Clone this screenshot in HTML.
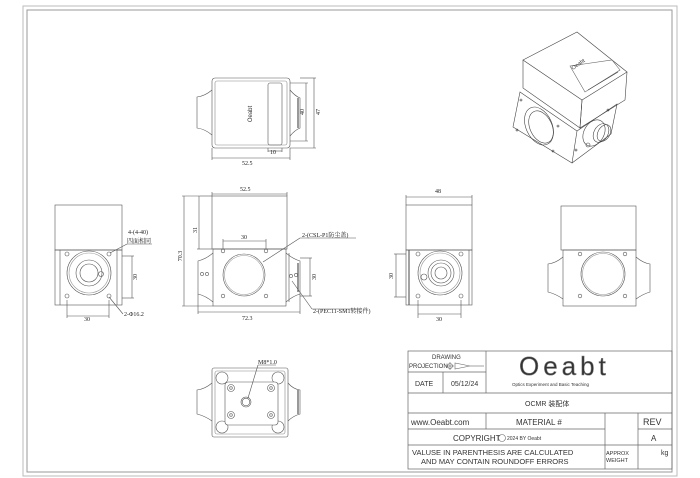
<!DOCTYPE html>
<html><head><meta charset="utf-8"><style>
html,body{margin:0;padding:0;background:#fff;}
svg{display:block}
text{font-family:"Liberation Sans","Noto Sans CJK SC",sans-serif;fill:#333}
.d{font-family:"Liberation Serif","Noto Serif CJK SC",serif;font-size:6px;fill:#222}
</style></head><body>
<svg width="700" height="478" viewBox="0 0 700 478" xmlns="http://www.w3.org/2000/svg" fill="none" stroke="#555" stroke-width="0.6">
<rect x="23" y="6" width="654" height="470" stroke="#bbb" stroke-width="1"/>
<rect x="27" y="10" width="645" height="462" stroke="#999" stroke-width="1"/>

<!-- TOP VIEW -->
<g>
<rect x="212" y="78" width="78" height="70" rx="3"/>
<rect x="215" y="81" width="72" height="64" rx="2" stroke="#888"/>
<rect x="268" y="83" width="14" height="62" rx="2"/>
<path d="M212,90 Q205,96 197,97 L197,128 Q205,129 212,135"/>
<path d="M290,90 Q295,96 300,98 L300,128 Q295,130 290,136"/>
<line x1="298" y1="98" x2="298" y2="128" stroke-width="1.2"/>
<text x="0" y="0" font-size="6" fill="#222" stroke="none" transform="translate(252,114) rotate(-90)" text-anchor="middle">Oeabt</text>
<line x1="212" y1="148" x2="212" y2="160"/><line x1="290" y1="148" x2="290" y2="160"/>
<line x1="212" y1="158" x2="290" y2="158"/>
<text class="d" x="242" y="165" stroke="none">52.5</text>
<line x1="268" y1="148" x2="268" y2="152"/><line x1="282" y1="148" x2="282" y2="152"/>
<line x1="268" y1="151" x2="282" y2="151"/>
<text class="d" x="270" y="154" stroke="none">10</text>
<line x1="290" y1="83" x2="308" y2="83"/><line x1="290" y1="141" x2="308" y2="141"/>
<line x1="306" y1="83" x2="306" y2="141"/>
<line x1="300" y1="78" x2="316" y2="78"/><line x1="290" y1="148" x2="316" y2="148"/>
<line x1="314" y1="78" x2="314" y2="148"/>
<text class="d" stroke="none" transform="translate(304,112) rotate(-90)" text-anchor="middle">40</text>
<text class="d" stroke="none" transform="translate(320,112) rotate(-90)" text-anchor="middle">47</text>
</g>

<!-- ISO VIEW -->
<g stroke="#444">
<polygon points="523,60 577,32 627,72 582,100" fill="#fff"/>
<polyline points="523,60 523,88 580,128 582,100"/>
<polyline points="582,100 580,128 625,100 627,72"/>
<polygon points="570,66 612,60 620,70 585,92" stroke="#666"/>
<line x1="588" y1="90" x2="618" y2="72"/>
<text stroke="none" font-size="5.5" fill="#222" transform="translate(573,70) rotate(-35)">Oeabt</text>
<polygon points="520,92 577,131 572,163 513,127"/>
<polyline points="577,131 617,104 611,134 572,163"/>
<ellipse cx="539" cy="126" rx="13" ry="20" transform="rotate(-25 539 126)"/>
<ellipse cx="541" cy="127" rx="11" ry="17" transform="rotate(-25 541 127)"/>
<ellipse cx="594" cy="133" rx="10" ry="14" transform="rotate(30 594 133)"/>
<ellipse cx="601" cy="133" rx="7" ry="10" transform="rotate(30 601 133)"/>
<ellipse cx="604" cy="133" rx="6" ry="9" transform="rotate(30 604 133)"/>
<circle cx="588" cy="145" r="2"/>
<circle cx="521" cy="100" r="1"/><circle cx="517" cy="130" r="1"/><circle cx="558" cy="126" r="1"/><circle cx="553" cy="151" r="1"/><circle cx="608" cy="110" r="1"/><circle cx="576" cy="150" r="1"/>
</g>

<!-- LEFT VIEW -->
<g>
<rect x="55" y="205" width="67" height="45"/>
<rect x="55" y="250" width="67" height="55"/>
<line x1="60" y1="250" x2="60" y2="305"/><line x1="117" y1="250" x2="117" y2="305"/>
<circle cx="89" cy="273" r="22"/><circle cx="89" cy="273" r="20" stroke="#999"/>
<circle cx="89" cy="273" r="13"/><circle cx="89" cy="273" r="9"/>
<circle cx="101" cy="274" r="2.5"/>
<circle cx="67" cy="254" r="2"/><circle cx="109" cy="254" r="2"/><circle cx="67" cy="296" r="2"/><circle cx="109" cy="296" r="2"/>
<line x1="122" y1="256" x2="134" y2="256"/><line x1="122" y1="298" x2="134" y2="298"/>
<line x1="132" y1="256" x2="132" y2="298"/>
<text class="d" stroke="none" transform="translate(137,277) rotate(-90)" text-anchor="middle">30</text>
<line x1="67" y1="300" x2="67" y2="318"/><line x1="109" y1="300" x2="109" y2="318"/>
<line x1="67" y1="316" x2="109" y2="316"/>
<text class="d" x="84" y="321" stroke="none">30</text>
<line x1="110" y1="253" x2="127" y2="244"/><line x1="127" y1="244" x2="152" y2="244"/>
<text class="d" x="128" y="234" stroke="none">4-(4-40)</text>
<text class="d" x="127" y="243" stroke="none">四面相同</text>
<line x1="109" y1="297" x2="123" y2="314"/>
<text class="d" x="124" y="316" stroke="none">2-Φ16.2</text>
</g>

<!-- FRONT VIEW -->
<g>
<rect x="212" y="196" width="75" height="53"/>
<rect x="213" y="249" width="73" height="57"/>
<path d="M213,253 Q206,259 198,261 L198,294 Q206,296 213,302"/>
<path d="M286,253 Q293,259 300,261 L300,294 Q293,296 286,302"/>
<line x1="289" y1="253" x2="289" y2="302"/>
<line x1="298" y1="263" x2="298" y2="292" stroke-width="1.2"/>
<circle cx="244" cy="275" r="21"/><circle cx="244" cy="275" r="19.5" stroke="#999"/>
<circle cx="223" cy="251" r="1.8"/><circle cx="266" cy="251" r="1.8"/><circle cx="223" cy="296" r="1.8"/><circle cx="266" cy="296" r="1.8"/>
<circle cx="202" cy="274" r="1.6"/><circle cx="207" cy="274" r="1.6"/>
<circle cx="291" cy="276" r="1.6"/><circle cx="296" cy="275" r="1.6"/>
<line x1="212" y1="196" x2="212" y2="192"/><line x1="287" y1="196" x2="287" y2="192"/>
<line x1="212" y1="194" x2="287" y2="194"/>
<text class="d" x="240" y="191" stroke="none">52.5</text>
<line x1="223" y1="249" x2="223" y2="239"/><line x1="266" y1="249" x2="266" y2="239"/>
<line x1="223" y1="241" x2="266" y2="241"/>
<text class="d" x="241" y="239" stroke="none">30</text>
<line x1="200" y1="196" x2="212" y2="196"/><line x1="197" y1="249" x2="212" y2="249"/>
<line x1="199" y1="196" x2="199" y2="249"/>
<text class="d" stroke="none" transform="translate(197,230) rotate(-90)" text-anchor="middle">31</text>
<line x1="182" y1="196" x2="200" y2="196"/><line x1="182" y1="306" x2="213" y2="306"/>
<line x1="184" y1="196" x2="184" y2="306"/>
<text class="d" stroke="none" transform="translate(182,256) rotate(-90)" text-anchor="middle">70.3</text>
<line x1="300" y1="258" x2="312" y2="258"/><line x1="300" y1="296" x2="312" y2="296"/>
<line x1="310" y1="258" x2="310" y2="296"/>
<text class="d" stroke="none" transform="translate(316,277) rotate(-90)" text-anchor="middle">30</text>
<line x1="198" y1="294" x2="198" y2="314"/><line x1="300" y1="294" x2="300" y2="314"/>
<line x1="198" y1="312" x2="300" y2="312"/>
<text class="d" x="242" y="320" stroke="none">72.3</text>
<line x1="263" y1="262" x2="300" y2="238"/><line x1="300" y1="238" x2="356" y2="238"/>
<text class="d" x="302" y="237" stroke="none">2-(CSL-P1防尘盖)</text>
<line x1="292" y1="281" x2="312" y2="309"/><line x1="312" y1="309" x2="360" y2="309"/>
<text class="d" x="313" y="313" stroke="none">2-(PEC11-SM1转接件)</text>
</g>

<!-- RIGHT VIEW A -->
<g>
<rect x="406" y="205" width="66" height="45"/>
<rect x="406" y="250" width="66" height="55"/>
<line x1="409" y1="250" x2="409" y2="305" stroke-width="1.1"/><line x1="469" y1="250" x2="469" y2="305"/>
<circle cx="440" cy="273" r="22"/><circle cx="440" cy="273" r="20" stroke="#999"/>
<circle cx="441" cy="273" r="13"/><circle cx="441" cy="273" r="10"/><circle cx="441" cy="273" r="6"/>
<circle cx="424" cy="277" r="3"/>
<circle cx="418" cy="254" r="2"/><circle cx="461" cy="254" r="2"/><circle cx="418" cy="296" r="2"/><circle cx="461" cy="296" r="2"/>
<line x1="406" y1="205" x2="406" y2="195"/><line x1="472" y1="205" x2="472" y2="195"/>
<line x1="406" y1="197" x2="472" y2="197"/>
<text class="d" x="435" y="193" stroke="none">48</text>
<line x1="394" y1="254" x2="406" y2="254"/><line x1="394" y1="297" x2="406" y2="297"/>
<line x1="396" y1="254" x2="396" y2="297"/>
<text class="d" stroke="none" transform="translate(393,276) rotate(-90)" text-anchor="middle">30</text>
<line x1="418" y1="300" x2="418" y2="318"/><line x1="461" y1="300" x2="461" y2="318"/>
<line x1="418" y1="314" x2="461" y2="314"/>
<text class="d" x="436" y="321" stroke="none">30</text>
</g>

<!-- RIGHT VIEW B -->
<g>
<rect x="561" y="206" width="75" height="44"/>
<rect x="563" y="250" width="73" height="56"/>
<path d="M563,257 Q556,263 548,264 L548,292 Q556,294 563,299"/>
<path d="M636,257 Q643,263 650,264 L650,292 Q643,294 636,299"/>
<circle cx="603" cy="274" r="22"/><circle cx="603" cy="274" r="20.5" stroke="#999"/>
<circle cx="580" cy="254" r="1.8"/><circle cx="625" cy="254" r="1.8"/><circle cx="580" cy="296" r="1.8"/><circle cx="625" cy="296" r="1.8"/>
</g>

<!-- BOTTOM VIEW -->
<g>
<rect x="212" y="368" width="76" height="69" rx="2"/>
<rect x="215" y="371" width="70" height="63" rx="2" stroke="#888"/>
<circle cx="222" cy="378" r="6"/><circle cx="278" cy="378" r="6"/><circle cx="222" cy="427" r="6"/><circle cx="278" cy="427" r="6"/>
<rect x="225" y="382" width="53" height="43" rx="3" fill="#fff"/>
<circle cx="231" cy="388" r="3.5"/><circle cx="231" cy="388" r="1.3"/>
<circle cx="271" cy="388" r="3.5"/><circle cx="271" cy="388" r="1.3"/>
<circle cx="231" cy="415" r="3.5"/><circle cx="231" cy="415" r="1.3"/>
<circle cx="271" cy="415" r="3.5"/><circle cx="271" cy="415" r="1.3"/>
<circle cx="246" cy="402" r="5"/><circle cx="246" cy="402" r="3.8"/>
<path d="M212,383 Q205,389 197,390 L197,414 Q205,416 212,421"/>
<path d="M288,383 Q293,389 300,390 L300,414 Q293,416 288,421"/>
<line x1="298" y1="390" x2="298" y2="414" stroke-width="1.2"/>
<line x1="248" y1="398" x2="258" y2="365"/><line x1="258" y1="365" x2="276" y2="365"/>
<text class="d" x="258" y="364" stroke="none">M8*1.0</text>
</g>

<!-- TITLE BLOCK -->
<g stroke="#666" stroke-width="0.7">
<rect x="408" y="351" width="264" height="118"/>
<line x1="486" y1="351" x2="486" y2="393"/>
<line x1="408" y1="372" x2="486" y2="372"/>
<line x1="443" y1="372" x2="443" y2="393"/>
<line x1="408" y1="393" x2="672" y2="393"/>
<line x1="408" y1="413" x2="672" y2="413"/>
<line x1="486" y1="413" x2="486" y2="429"/>
<line x1="408" y1="429" x2="605" y2="429"/>
<line x1="638" y1="429" x2="672" y2="429"/>
<line x1="408" y1="445" x2="672" y2="445"/>
<line x1="605" y1="413" x2="605" y2="469"/>
<line x1="638" y1="413" x2="638" y2="469"/>
</g>
<g stroke="none" fill="#555">
<text x="432" y="359" font-size="6" fill="#666">DRAWING</text>
<text x="409" y="368" font-size="6" fill="#666">PROJECTION</text>
<g stroke="#666" fill="none" stroke-width="0.6"><circle cx="450" cy="366" r="2.5"/><line x1="446" y1="366" x2="454" y2="366"/><line x1="450" y1="362" x2="450" y2="370"/><polygon points="455,363 455,369 470,366"/><line x1="470" y1="366" x2="484" y2="366"/></g>
<text x="415" y="386" font-size="7" fill="#666">DATE</text>
<text x="451" y="386" font-size="7" fill="#333" font-family="Liberation Serif,serif">05/12/24</text>
<text x="519" y="375" font-size="26" fill="#fff" stroke="#888" stroke-width="0.5" letter-spacing="4">Oeabt</text>
<text x="512" y="386" font-size="4.5" fill="#333">Optics Experiment and Basic Teaching</text>
<text x="525" y="406" font-size="7" fill="#222" font-family="Liberation Serif,'Noto Serif CJK SC',serif">OCMR 装配体</text>
<text x="411" y="425" font-size="8" fill="#777">www.Oeabt.com</text>
<text x="516" y="425" font-size="8" fill="#777">MATERIAL #</text>
<text x="643" y="425" font-size="9" fill="#888">REV</text>
<text x="453" y="441" font-size="8" fill="#777">COPYRIGHT</text>
<circle cx="502" cy="438" r="3.5" fill="none" stroke="#666" stroke-width="0.6"/>
<text x="507" y="440" font-size="5" fill="#444">2024 BY Oeabt</text>
<text x="651" y="441" font-size="8" fill="#888">A</text>
<text x="412" y="455" font-size="7.5" fill="#777">VALUSE IN PARENTHESIS ARE CALCULATED</text>
<text x="421" y="464" font-size="7.5" fill="#777">AND MAY CONTAIN ROUNDOFF ERRORS</text>
<text x="606" y="455" font-size="5.5" fill="#777">APPROX</text>
<text x="606" y="462" font-size="5.5" fill="#777">WEIGHT</text>
<text x="661" y="455" font-size="7" fill="#777">kg</text>
</g>
</svg>
</body></html>
